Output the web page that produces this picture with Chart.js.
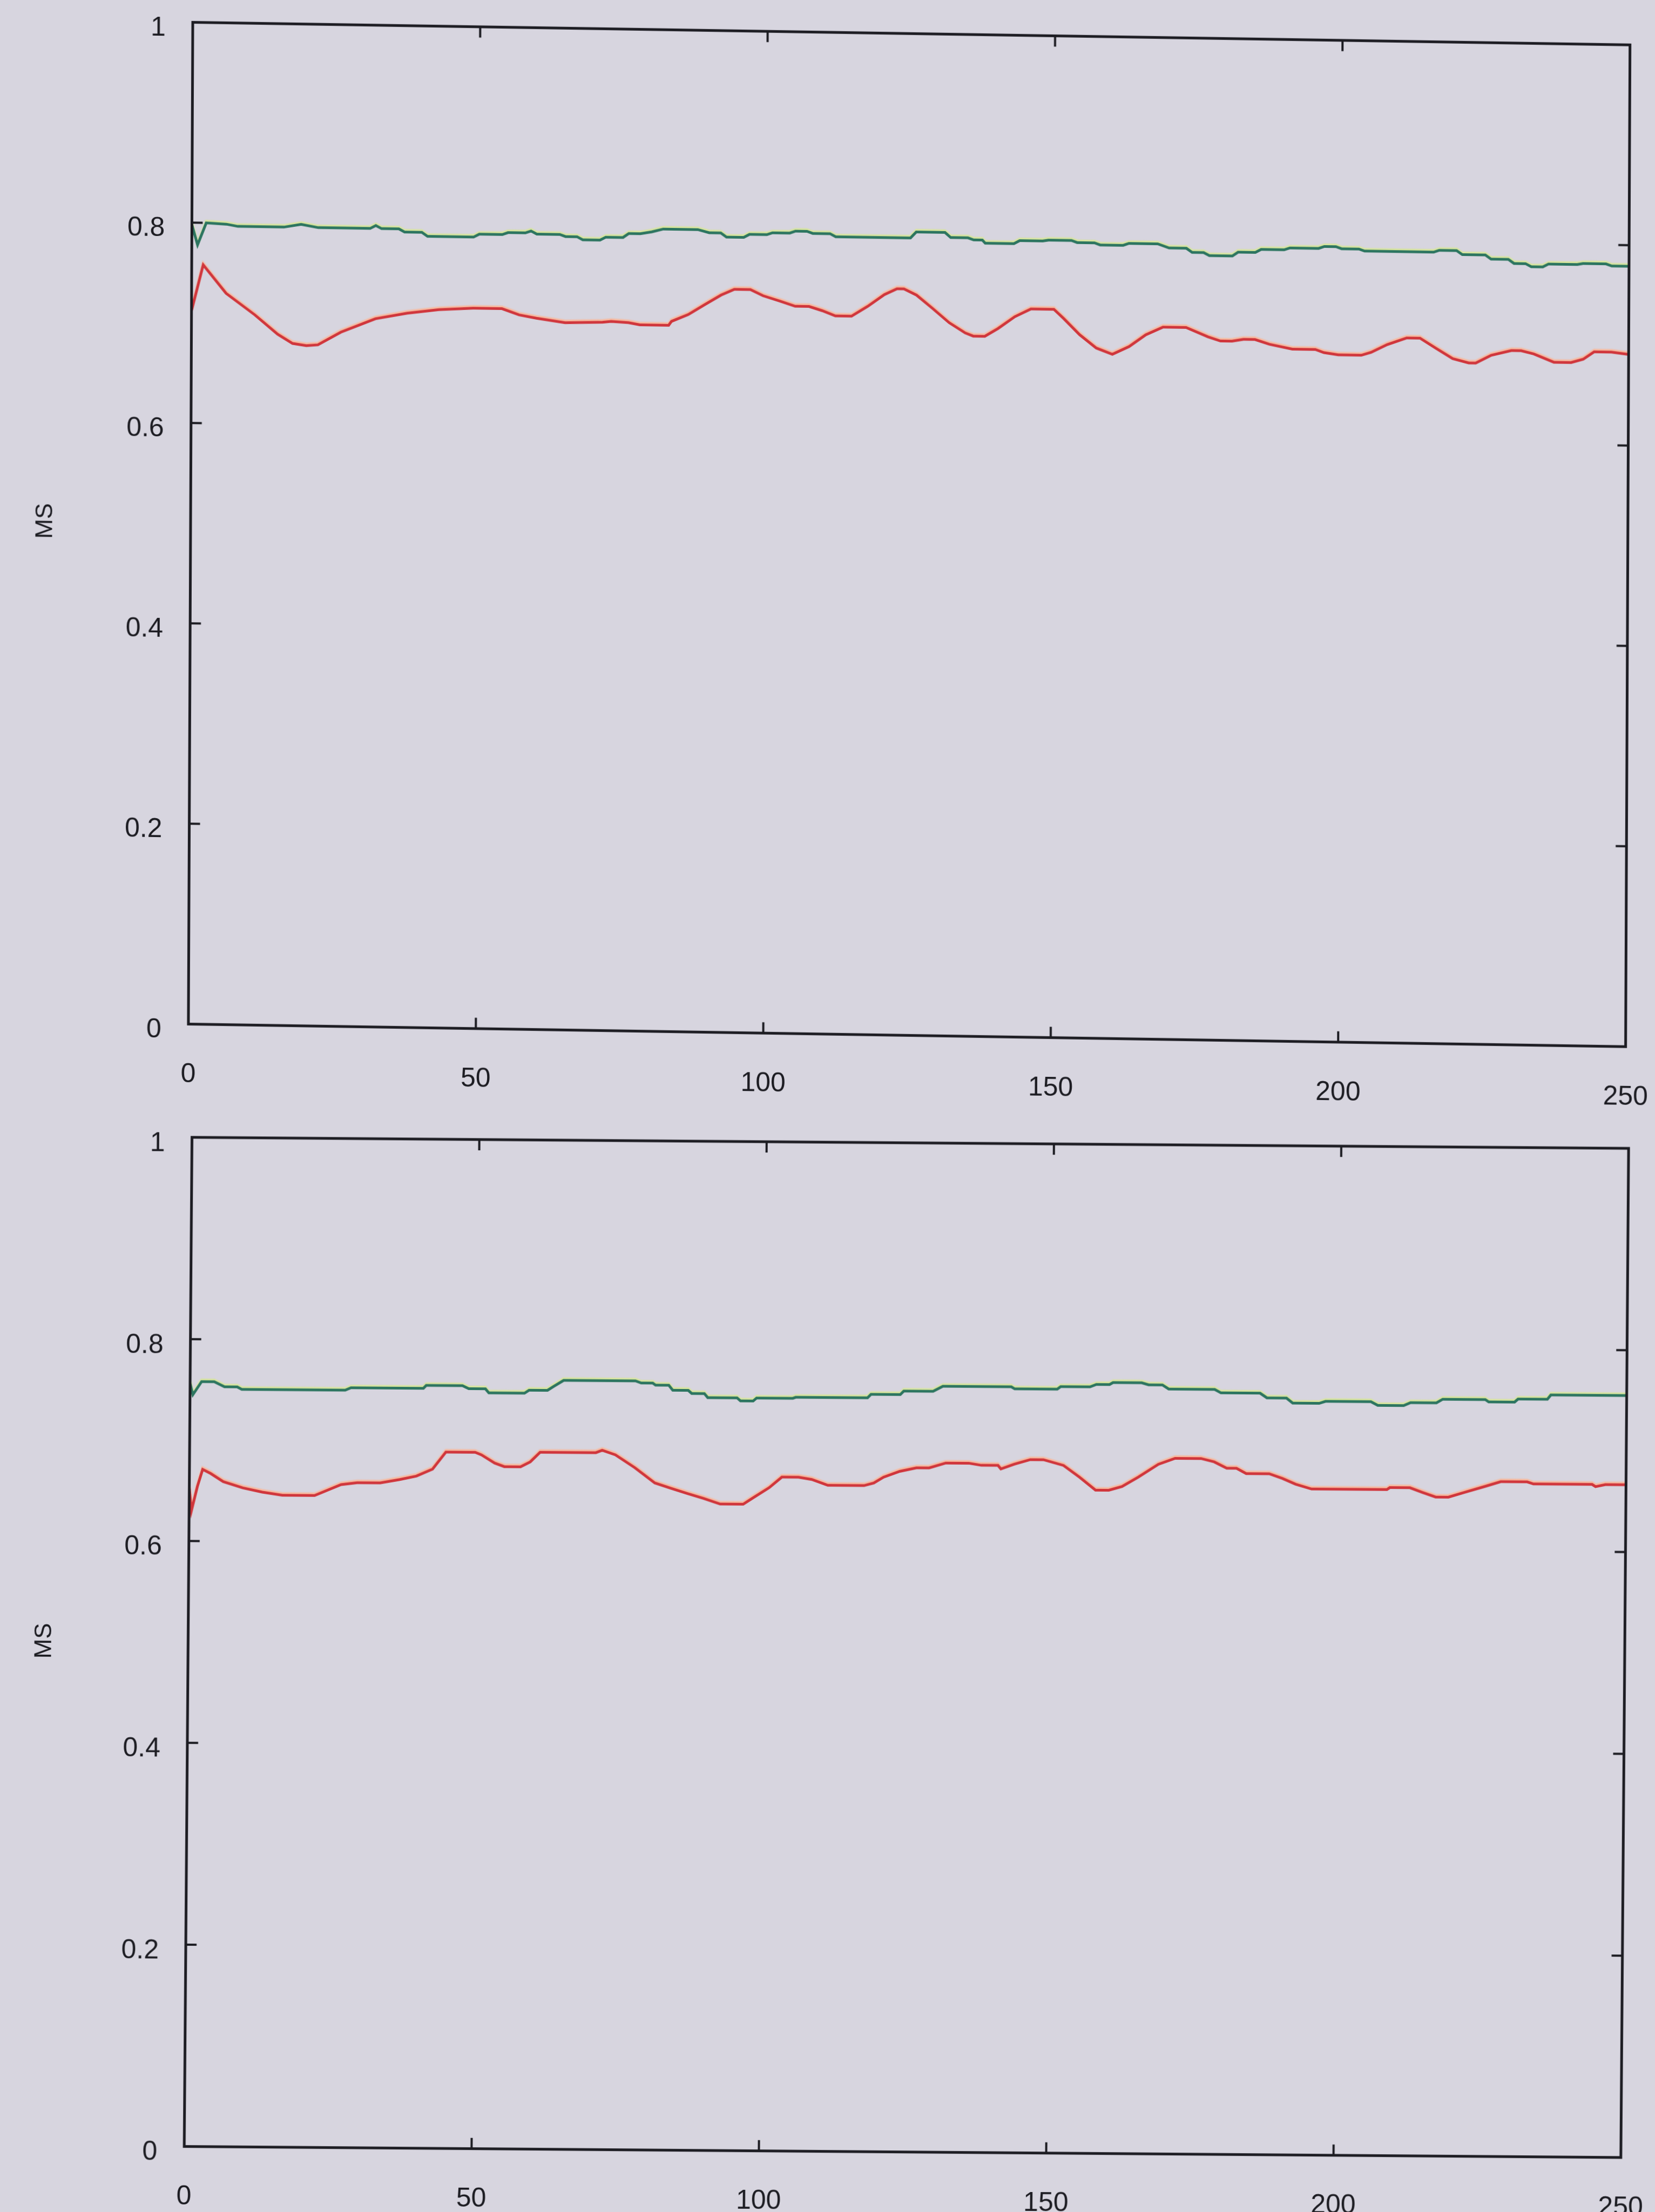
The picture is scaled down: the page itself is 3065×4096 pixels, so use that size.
<!DOCTYPE html>
<html>
<head>
<meta charset="utf-8">
<script src="https://cdn.jsdelivr.net/npm/chart.js@4.4.0/dist/chart.umd.min.js"></script>
<style>
  html, body { margin: 0; padding: 0; background: #d7d5df; }
  body { width: 3065px; height: 4096px; position: relative; overflow: hidden; }
  canvas { position: absolute; left: 0; }
  #chartTop { top: 0; transform-origin: 355px 412px; transform: rotate(0.25deg) skewY(0.65deg); }
  #chartBottom { top: 2050px; transform-origin: 353px 430px; transform: rotate(0.44deg); }
</style>
</head>
<body>
<canvas id="chartTop" width="3065" height="2050"></canvas>
<canvas id="chartBottom" width="3065" height="2046"></canvas>
<script>
// Axis ticks
const xTickValues = [0, 50, 100, 150, 200, 250];
const xTickLabels = ['0', '50', '100', '150', '200', '250'];
const yTickValues = [0, 0.2, 0.4, 0.6, 0.8, 1];
const yTickLabels = ['0', '0.2', '0.4', '0.6', '0.8', '1'];
const yAxisTitle = 'MS';

// Upper panel: green series
const topGreenX = [0,1,2.5,6,8,16,19,22,31,32,33,36,37,40,41,49,50,54,55,58,59,60,64,65,67,68,71,72,75,76,78,80,82,88,90,92,93,96,97,100,101,104,105,107,108,111,112,125,126,131,132,135,136,137.5,138,143,144,148,149,153,154,157,158,162,163,168,170,173,174,176,177,181,182,185,186,190,191,196,197,199,200,203,204,216,217,220,221,225,226,229,230,232,233,235,236,241,242,246,247,250];
const topGreenY = [0.798,0.778,0.800,0.799,0.797,0.797,0.800,0.797,0.797,0.800,0.797,0.797,0.794,0.794,0.790,0.790,0.793,0.793,0.795,0.795,0.797,0.794,0.794,0.792,0.792,0.789,0.789,0.792,0.792,0.796,0.796,0.798,0.801,0.801,0.798,0.798,0.794,0.794,0.797,0.797,0.799,0.799,0.801,0.801,0.799,0.799,0.796,0.796,0.802,0.802,0.797,0.797,0.795,0.795,0.792,0.792,0.795,0.795,0.796,0.796,0.794,0.794,0.792,0.792,0.794,0.794,0.790,0.790,0.786,0.786,0.783,0.783,0.787,0.787,0.790,0.790,0.792,0.792,0.794,0.794,0.792,0.792,0.790,0.790,0.792,0.792,0.788,0.788,0.784,0.784,0.780,0.780,0.777,0.777,0.780,0.780,0.781,0.781,0.779,0.779];

// Upper panel: red series
const topRedX = [0,1,2,6,11,15,17.6,20,22,26,32,37.5,43,49,54,57,60,65,71.5,73,76,78,83,83.5,86.4,89.2,92.1,94.4,97.2,99.4,102.3,105,107.4,109.7,112,114.8,117.6,120.5,122.7,123.9,126.1,128.9,131.8,134.6,136,138,140.3,143.2,146,150,151.7,154.5,157.4,160.2,163.1,166,169,173,176.8,179,181,183,185,187.5,191.5,195.5,197,199.5,203.5,205.2,208,211.4,213.7,216.5,219.4,222.2,223.4,226.1,229.6,231.3,233.5,237,240,242.1,244,247,250];
const topRedY = [0.712,0.735,0.758,0.730,0.709,0.690,0.681,0.679,0.680,0.693,0.707,0.713,0.717,0.719,0.719,0.713,0.710,0.706,0.707,0.708,0.707,0.705,0.705,0.709,0.716,0.726,0.736,0.742,0.742,0.736,0.731,0.726,0.726,0.722,0.717,0.717,0.727,0.739,0.745,0.745,0.739,0.726,0.712,0.702,0.699,0.699,0.707,0.719,0.727,0.727,0.718,0.702,0.689,0.683,0.691,0.703,0.711,0.711,0.702,0.698,0.698,0.700,0.700,0.6955,0.691,0.691,0.688,0.686,0.686,0.689,0.697,0.704,0.704,0.694,0.684,0.680,0.680,0.688,0.693,0.693,0.690,0.682,0.682,0.6855,0.693,0.693,0.691];

// Lower panel: green series
const botGreenX = [0,0.5,2,4.2,6,8.2,9,27,28,40.6,41.1,47.4,48.5,51.4,52,58.2,59,62.2,63.3,65,77.5,78.5,80.5,81,83.3,84,86.7,87.3,89.5,90.1,95.2,95.8,98,98.6,104.9,105.4,117.9,118.5,123.6,124.2,129.3,131,142.9,143.5,150.9,151.5,156.6,157.7,160,160.6,165.6,166.8,169.2,170.3,178.3,179.4,186.2,187.4,190.8,191.9,196.5,197.6,205.5,206.7,211.2,212.4,216.9,218,225.4,226,230.5,231.1,236.2,236.8,250];
const botGreenY = [0.756,0.745,0.758,0.758,0.753,0.753,0.7506,0.7506,0.753,0.753,0.756,0.756,0.753,0.753,0.749,0.749,0.752,0.752,0.756,0.762,0.762,0.760,0.760,0.758,0.758,0.753,0.753,0.750,0.750,0.746,0.746,0.743,0.743,0.746,0.746,0.747,0.747,0.7505,0.7505,0.754,0.754,0.759,0.759,0.757,0.757,0.7596,0.7596,0.762,0.762,0.764,0.764,0.762,0.762,0.758,0.758,0.7546,0.7546,0.750,0.750,0.745,0.745,0.747,0.747,0.7434,0.7434,0.7464,0.7464,0.750,0.750,0.7477,0.7477,0.7507,0.7507,0.755,0.755];

// Lower panel: red series
const botRedX = [0,0.4,1.4,2.3,3.7,5.9,9.3,12.7,16.2,21.8,24.1,26.4,29.2,33.2,36.6,39.5,42.3,44.6,49.7,50.8,53.1,54.8,57.6,59.3,61,70.7,71.8,74.1,77.5,81,83.9,86.7,89.5,92.4,96.4,98,100.9,103.1,106,108.3,111.1,117.4,119.1,120.8,123.6,126.5,128.7,131.6,135.6,137.8,140.7,141.2,143.5,146.3,148.6,152.1,154.9,157.7,160,162.3,165.1,168.6,171.5,176,178.3,180.5,182.2,183.9,187.9,190.2,192.5,195.3,208.4,208.9,212.4,214.6,216.9,219.1,221.9,225.4,228.2,232.8,233.9,244.1,244.7,246.4,250];
const botRedY = [0.652,0.630,0.654,0.671,0.667,0.659,0.653,0.649,0.646,0.646,0.6515,0.657,0.659,0.659,0.6625,0.666,0.673,0.690,0.690,0.6875,0.6795,0.676,0.676,0.681,0.6906,0.6906,0.693,0.6886,0.676,0.661,0.6557,0.6508,0.6461,0.6406,0.6406,0.6466,0.6572,0.6678,0.6678,0.6657,0.660,0.660,0.6627,0.6685,0.6744,0.678,0.678,0.683,0.683,0.681,0.681,0.6775,0.6823,0.687,0.687,0.6815,0.670,0.6573,0.6573,0.661,0.6704,0.6834,0.6894,0.6894,0.6862,0.680,0.680,0.6748,0.6748,0.6703,0.6647,0.660,0.660,0.662,0.662,0.6575,0.653,0.653,0.6578,0.6638,0.6687,0.6687,0.6667,0.6667,0.6645,0.6666,0.6666];

const FONT = 'Liberation Sans, Arial, sans-serif';
const INK = '#1c1c22';

function toPoints(xs, ys) {
  return xs.map((x, i) => ({ x: x, y: ys[i] }));
}

// Closed box around the plot plus short inward tick marks on all four sides
const framePlugin = {
  id: 'frame',
  afterDraw(chart) {
    const { ctx, chartArea: a, scales: { x, y } } = chart;
    const len = 20;
    ctx.save();
    ctx.strokeStyle = INK;
    ctx.lineWidth = 5;
    ctx.strokeRect(a.left, a.top, a.right - a.left, a.bottom - a.top);
    ctx.lineWidth = 4;
    ctx.beginPath();
    y.ticks.forEach(t => {
      if (t.value <= y.min || t.value >= y.max) return;
      const py = y.getPixelForValue(t.value);
      ctx.moveTo(a.left, py); ctx.lineTo(a.left + len, py);
      ctx.moveTo(a.right, py); ctx.lineTo(a.right - len, py);
    });
    x.ticks.forEach(t => {
      if (t.value <= x.min || t.value >= x.max) return;
      const px = x.getPixelForValue(t.value);
      ctx.moveTo(px, a.bottom); ctx.lineTo(px, a.bottom - len);
      ctx.moveTo(px, a.top); ctx.lineTo(px, a.top + len);
    });
    ctx.stroke();
    ctx.restore();
  }
};

// Soft coloured fringe just above each trace
const fringePlugin = {
  id: 'fringe',
  beforeDatasetDraw(chart, args) {
    const ds = chart.data.datasets[args.index];
    const ctx = chart.ctx;
    ctx.save();
    ctx.shadowColor = ds.fringeColor;
    ctx.shadowOffsetX = 0;
    ctx.shadowOffsetY = -3;
    ctx.shadowBlur = 2;
  },
  afterDatasetDraw(chart) {
    chart.ctx.restore();
  }
};

function buildChart(id, green, red, box) {
  return new Chart(document.getElementById(id), {
    type: 'line',
    data: {
      datasets: [
        { data: red, borderColor: '#d0363c', borderWidth: 5, fringeColor: 'rgba(250,180,150,0.95)',
          pointRadius: 0, tension: 0, fill: false },
        { data: green, borderColor: '#2c7560', borderWidth: 5, fringeColor: 'rgba(214,230,150,0.95)',
          pointRadius: 0, tension: 0, fill: false }
      ]
    },
    options: {
      responsive: false,
      devicePixelRatio: 1,
      animation: false,
      events: [],
      layout: { padding: { top: box.top, right: box.right, left: 0, bottom: 0 } },
      plugins: { legend: { display: false }, tooltip: { enabled: false } },
      scales: {
        x: {
          type: 'linear', min: 0, max: 250,
          afterBuildTicks: s => { s.ticks = xTickValues.map(v => ({ value: v })); },
          afterFit: s => { s.height = box.xHeight; s.paddingLeft = 0; s.paddingRight = 0; },
          grid: { display: false, drawTicks: false },
          border: { display: false },
          ticks: { padding: 64, color: INK, font: { family: FONT, size: 50 }, maxRotation: 0,
                   callback: (v, i) => xTickLabels[i] }
        },
        y: {
          type: 'linear', min: 0, max: 1,
          afterBuildTicks: s => { s.ticks = yTickValues.map(v => ({ value: v })); },
          afterFit: s => { s.width = box.left; s.paddingTop = 0; s.paddingBottom = 0; },
          grid: { display: false, drawTicks: false },
          border: { display: false },
          ticks: { padding: 50, labelOffset: 12, color: INK, font: { family: FONT, size: 50 },
                   callback: (v, i) => yTickLabels[i] },
          title: { display: true, text: yAxisTitle, color: INK,
                   font: { family: FONT, size: 44 }, padding: { top: 60, bottom: 0 } }
        }
      }
    },
    plugins: [framePlugin, fringePlugin]
  });
}

buildChart('chartTop', toPoints(topGreenX, topGreenY), toPoints(topRedX, topRedY),
  { top: 41.3, right: 47.6, left: 355.4, xHeight: 153.7 });
buildChart('chartBottom', toPoints(botGreenX, botGreenY), toPoints(botRedX, botRedY),
  { top: 56, right: 51.7, left: 352.7, xHeight: 121.3 });
</script>
</body>
</html>
